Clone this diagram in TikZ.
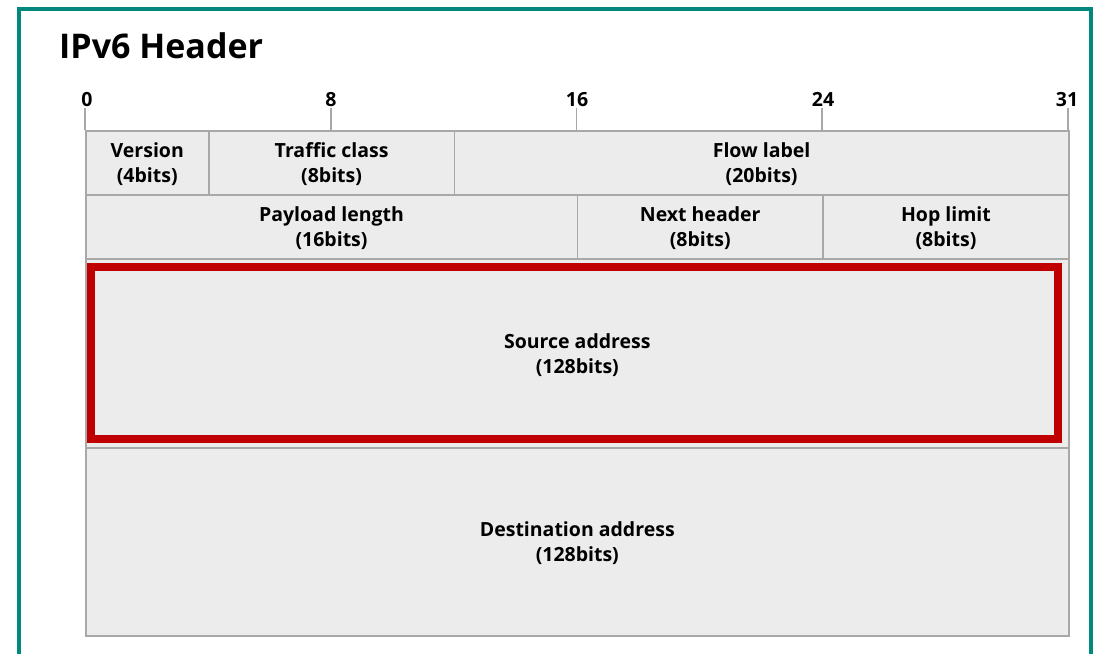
\documentclass[tikz,border=0pt]{standalone}
\usepackage{fontspec}
\setmainfont{Open Sans}
\definecolor{framecol}{HTML}{00877E}
\definecolor{cellline}{HTML}{A8A8A8}
\definecolor{cellfill}{HTML}{ECECEC}
\definecolor{hlred}{HTML}{C00000}
\begin{document}
\begin{tikzpicture}[x=1pt,y=-1pt,
  cell/.style={draw=cellline, fill=cellfill, line width=1.6pt, inner sep=0pt,
    anchor=north west, align=center, text depth=-3pt,
    font=\bfseries\fontsize{19.5}{25}\selectfont},
  ticklbl/.style={anchor=base, inner sep=0pt, font=\bfseries\fontsize{19.5}{24}\selectfont},
  tickline/.style={draw=cellline, line width=1.6pt},
  hlbox/.style={draw=hlred, line width=8pt}
]
\useasboundingbox (0,0) rectangle (1094,653);
% outer frame, open at the bottom edge
\begin{scope}
  \clip (0,0) rectangle (1094,653);
  \draw[framecol, line width=4.5pt] (19,9) rectangle (1091,700);
\end{scope}

% title
\node[anchor=base west, inner sep=0pt, font=\bfseries\fontsize{34}{38}\selectfont] (title) at (59,58) {IPv6 Header};

% bit ruler
\foreach \b/\lbl/\xl in {0/0/87, 8/8/331, 16/16/577, 24/24/823, 32/31/1067} {
  \coordinate (t\b) at ({85+\b*30.72},108);
  \coordinate (b\b) at ({85+\b*30.72},130);
  \draw[tickline] (t\b) -- (b\b);
  \node[ticklbl] (l\b) at (\xl,106) {\lbl};
}

% row 1
\node[cell, minimum width=122.9pt, minimum height=64pt] (ver) at (85,130) {Version\\(4bits)};
\node[cell, minimum width=245.8pt, minimum height=64pt] (tc) at (207.9,130) {Traffic class\\(8bits)};
\node[cell, minimum width=614.4pt, minimum height=64pt] (fl) at (453.6,130) {Flow label\\(20bits)};
% row 2
\node[cell, minimum width=491.5pt, minimum height=64pt] (pl) at (85,194) {Payload length\\(16bits)};
\node[cell, minimum width=245.8pt, minimum height=64pt] (nh) at (576.5,194) {Next header\\(8bits)};
\node[cell, minimum width=245.7pt, minimum height=64pt] (hop) at (822.3,194) {Hop limit\\(8bits)};
% addresses
\node[cell, minimum width=983pt, minimum height=189pt] (src) at (85,258) {Source address\\(128bits)};
\node[cell, minimum width=983pt, minimum height=188pt] (dst) at (85,447) {Destination address\\(128bits)};

% highlight around the source address
\draw[hlbox] (91,267) rectangle (1058,439);
\end{tikzpicture}
\end{document}
